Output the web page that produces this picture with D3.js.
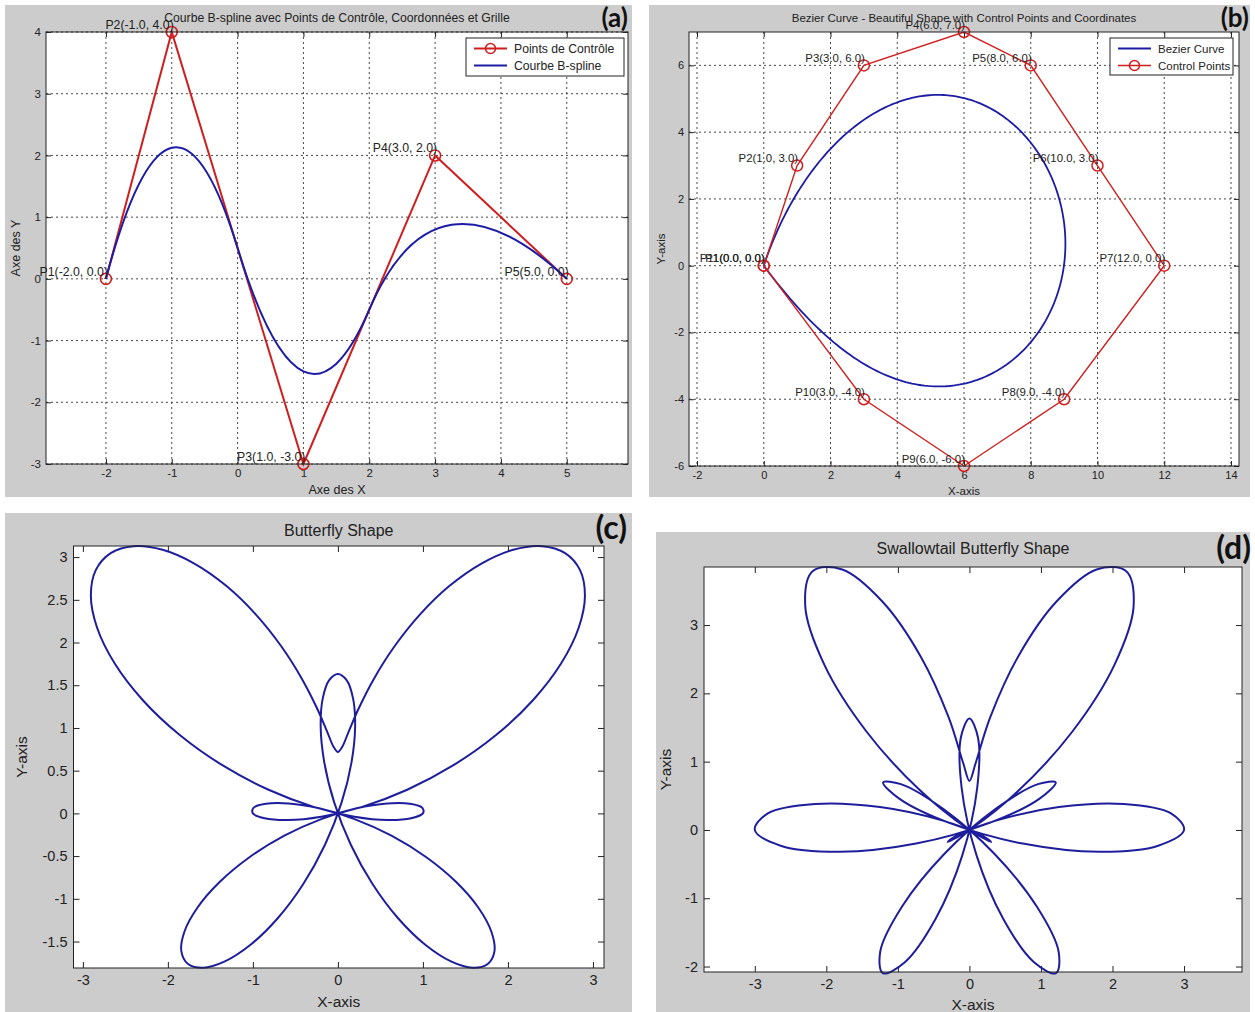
<!DOCTYPE html>
<html>
<head>
<meta charset="utf-8">
<script src="https://cdn.jsdelivr.net/npm/d3@7"></script>
<style>
  body { margin: 0; background: #fff; }
  text { font-family: "Liberation Sans", Arial, sans-serif; fill: #222; }
  .tag { font-family: Lato, "Liberation Sans", sans-serif; font-weight: 700; fill: #111; }
</style>
</head>
<body>
<svg id="chart" width="1255" height="1012"></svg>
<script>
// ---- data ----
// (a) B-spline control points
const splineX = [-2, -1, 1, 3, 5];
const splineY = [0, 4, -3, 2, 0];
// (b) Bezier control points (P11 closes back on P1)
const bezierX = [0, 1, 3, 6, 8, 10, 12, 9, 6, 3, 0];
const bezierY = [0, 3, 6, 7, 6, 3, 0, -4, -6, -4, 0];
// (c) butterfly, polar samples (angle from the vertical, degrees) of the right half
const butterflyAngle = [0, 3.75, 7.5, 11.25, 15, 18.75, 22.5, 26.25, 30, 33.75, 37.5, 41.25, 45,
  48.75, 52.5, 56.25, 60, 63.75, 67.5, 71.25, 75, 78.75, 82.5, 86.25, 90, 93.75, 97.5, 101.25,
  105, 108.75, 112.5, 116.25, 120, 123.75, 127.5, 131.25, 135, 138.75, 142.5, 146.25, 150,
  153.75, 157.5, 161.25, 165, 168.75, 172.5, 176.25, 180];
const butterflyRadius = [0.718, 0.781, 0.963, 1.252, 1.627, 2.060, 2.519, 2.970, 3.377, 3.711,
  3.943, 4.053, 4.028, 3.865, 3.570, 3.157, 2.649, 2.074, 1.466, 0.861, 0.295, -0.199, -0.593,
  -0.864, -1.000, -0.995, -0.854, -0.591, -0.228, 0.207, 0.682, 1.160, 1.607, 1.988, 2.276,
  2.449, 2.493, 2.403, 2.184, 1.850, 1.421, 0.925, 0.397, -0.130, -0.619, -1.039, -1.361,
  -1.563, -1.632];
// (d) swallowtail, polar samples of the right half
const swallowAngle = [0, 5, 10, 15, 20, 25, 30, 35, 40, 45, 50, 55, 60, 65, 70, 75, 80, 85, 90,
  95, 100, 105, 110, 115, 120, 125, 130, 135, 140, 145, 150, 155, 160, 165, 170, 175, 180];
const swallowRadius = [0.718, 0.976, 1.677, 2.627, 3.559, 4.207, 4.377, 4.001, 3.151, 2.028,
  0.902, 0.043, -0.351, -0.206, 0.408, 1.295, 2.190, 2.823, 3.000, 2.649, 1.841, 0.772, -0.290,
  -1.077, -1.393, -1.169, -0.474, 0.493, 1.465, 2.173, 2.421, 2.136, 1.391, 0.381, -0.626,
  -1.363, -1.632];

// tick values
const aTicksX = [-2, -1, 0, 1, 2, 3, 4, 5];
const aTicksY = [-3, -2, -1, 0, 1, 2, 3, 4];
const bTicksX = [-2, 0, 2, 4, 6, 8, 10, 12, 14];
const bTicksY = [-6, -4, -2, 0, 2, 4, 6];
const cTicksX = [-3, -2, -1, 0, 1, 2, 3];
const cTicksY = [-1.5, -1, -0.5, 0, 0.5, 1, 1.5, 2, 2.5, 3];
const dTicksX = [-3, -2, -1, 0, 1, 2, 3];
const dTicksY = [-2, -1, 0, 1, 2, 3];

const RED = "#d01e1e", BLUE = "#1c1ca4", CURVE = "#1e1e9c";
const svg = d3.select("#chart");

// quadratic clamped B-spline through the control polygon
function quadBSpline(context) {
  let pts = [];
  return {
    areaStart() {}, areaEnd() {},
    lineStart() { pts = []; },
    point(x, y) { pts.push([+x, +y]); },
    lineEnd() {
      const n = pts.length;
      context.moveTo(pts[0][0], pts[0][1]);
      for (let i = 1; i < n - 2; i++) {
        context.quadraticCurveTo(pts[i][0], pts[i][1],
          (pts[i][0] + pts[i + 1][0]) / 2, (pts[i][1] + pts[i + 1][1]) / 2);
      }
      context.quadraticCurveTo(pts[n - 2][0], pts[n - 2][1], pts[n - 1][0], pts[n - 1][1]);
    }
  };
}

// single Bezier of any degree (de Casteljau)
function bezierN(context) {
  let pts = [];
  return {
    areaStart() {}, areaEnd() {},
    lineStart() { pts = []; },
    point(x, y) { pts.push([+x, +y]); },
    lineEnd() {
      const steps = 300;
      for (let k = 0; k <= steps; k++) {
        const t = k / steps;
        const q = pts.map(p => p.slice());
        for (let r = q.length - 1; r > 0; r--) {
          for (let i = 0; i < r; i++) {
            q[i][0] += t * (q[i + 1][0] - q[i][0]);
            q[i][1] += t * (q[i + 1][1] - q[i][1]);
          }
        }
        if (k === 0) context.moveTo(q[0][0], q[0][1]);
        else context.lineTo(q[0][0], q[0][1]);
      }
    }
  };
}

// right half + mirrored left half -> closed loop in x/y
function polarLoop(angles, radii) {
  const half = angles.map((a, i) => ({ a: a, r: radii[i] }));
  const mirror = half.slice(1, -1).reverse().map(d => ({ a: 360 - d.a, r: d.r }));
  return half.concat(mirror).map(d => {
    const t = d.a * Math.PI / 180;
    return { x: d.r * Math.sin(t), y: d.r * Math.cos(t) };
  });
}

function panel(o) {
  const g = svg.append("g");
  g.append("rect").attr("x", o.bg[0]).attr("y", o.bg[1]).attr("width", o.bg[2]).attr("height", o.bg[3])
    .attr("fill", "#cccccc");
  const x = d3.scaleLinear().domain(o.xDom).range([o.left, o.right]);
  const y = d3.scaleLinear().domain(o.yDom).range([o.bottom, o.top]);
  g.append("rect").attr("x", o.left).attr("y", o.top)
    .attr("width", o.right - o.left).attr("height", o.bottom - o.top).attr("fill", "#fff");

  if (o.grid) {
    g.selectAll(".gx").data(o.xTicks).join("line")
      .attr("x1", d => x(d)).attr("x2", d => x(d)).attr("y1", o.top).attr("y2", o.bottom)
      .attr("stroke", "#333").attr("stroke-width", 0.9).attr("stroke-dasharray", "2,3");
    g.selectAll(".gy").data(o.yTicks).join("line")
      .attr("y1", d => y(d)).attr("y2", d => y(d)).attr("x1", o.left).attr("x2", o.right)
      .attr("stroke", "#333").attr("stroke-width", 0.9).attr("stroke-dasharray", "2,3");
  }

  const fmt = d => String(d);
  const ts = o.tick;
  const axes = [
    [d3.axisBottom(x).tickValues(o.xTicks).tickSize(-ts).tickPadding(o.padX).tickFormat(fmt), `translate(0,${o.bottom})`],
    [d3.axisTop(x).tickValues(o.xTicks).tickSize(-ts).tickFormat(""), `translate(0,${o.top})`],
    [d3.axisLeft(y).tickValues(o.yTicks).tickSize(-ts).tickPadding(o.padY).tickFormat(fmt), `translate(${o.left},0)`],
    [d3.axisRight(y).tickValues(o.yTicks).tickSize(-ts).tickFormat(""), `translate(${o.right},0)`]
  ];
  axes.forEach(([ax, tr]) => {
    const a = g.append("g").attr("transform", tr).call(ax);
    a.select(".domain").remove();
    a.attr("color", "#222").attr("font-size", o.font);
  });

  const cx = (o.left + o.right) / 2, cy = (o.top + o.bottom) / 2;
  g.append("text").attr("x", cx).attr("y", o.titleY).attr("text-anchor", "middle")
    .attr("font-size", o.titleFont).text(o.title);
  g.append("text").attr("x", cx).attr("y", o.xlabY).attr("text-anchor", "middle")
    .attr("font-size", o.labFont).text(o.xlab);
  g.append("text").attr("transform", `translate(${o.ylabX},${cy}) rotate(-90)`).attr("text-anchor", "middle")
    .attr("font-size", o.labFont).text(o.ylab);
  g.append("text").attr("class", "tag").attr("x", o.tagX).attr("y", o.tagY).attr("text-anchor", "end")
    .attr("font-size", o.tagFont).text(o.tag);

  const plot = g.append("g");
  const frame = () => g.append("rect").attr("x", o.left).attr("y", o.top)
    .attr("width", o.right - o.left).attr("height", o.bottom - o.top)
    .attr("fill", "none").attr("stroke", "#222").attr("stroke-width", 1);
  return { g, plot, x, y, frame };
}

function legend(g, x0, y0, w, h, items, font) {
  const lg = g.append("g");
  lg.append("rect").attr("x", x0).attr("y", y0).attr("width", w).attr("height", h)
    .attr("fill", "#fff").attr("stroke", "#222").attr("stroke-width", 1);
  items.forEach((it, i) => {
    const yy = y0 + 10.5 + i * 17;
    lg.append("line").attr("x1", x0 + 8).attr("x2", x0 + 41).attr("y1", yy).attr("y2", yy)
      .attr("stroke", it.color).attr("stroke-width", it.width);
    if (it.marker) {
      lg.append("circle").attr("cx", x0 + 24.5).attr("cy", yy).attr("r", 5)
        .attr("fill", "none").attr("stroke", it.color).attr("stroke-width", 1.5);
    }
    lg.append("text").attr("x", x0 + 48).attr("y", yy + 4).attr("font-size", font).text(it.label);
  });
}

// ---------- (a) ----------
const A = panel({
  bg: [5, 5, 627, 492], left: 46, right: 628, top: 32, bottom: 464,
  xDom: [-2.91, 5.93], yDom: [-3, 4], xTicks: aTicksX, yTicks: aTicksY, grid: true,
  tick: 5, padX: 5, padY: 5, font: 11.5, titleFont: 12.2, labFont: 12.5, tagFont: 26,
  title: "Courbe B-spline avec Points de Contrôle, Coordonnées et Grille", titleY: 22,
  xlab: "Axe des X", xlabY: 494, ylab: "Axe des Y", ylabX: 20,
  tag: "(a)", tagX: 628, tagY: 27
});
const aPts = splineX.map((v, i) => ({ x: v, y: splineY[i] }));
A.plot.append("path").datum(aPts)
  .attr("d", d3.line().x(d => A.x(d.x)).y(d => A.y(d.y)))
  .attr("fill", "none").attr("stroke", RED).attr("stroke-width", 2);
A.plot.selectAll(".pa").data(aPts).join("circle")
  .attr("cx", d => A.x(d.x)).attr("cy", d => A.y(d.y)).attr("r", 5.5)
  .attr("fill", "none").attr("stroke", RED).attr("stroke-width", 1.6);
A.plot.append("path").datum(aPts)
  .attr("d", d3.line().x(d => A.x(d.x)).y(d => A.y(d.y)).curve(quadBSpline))
  .attr("fill", "none").attr("stroke", BLUE).attr("stroke-width", 2);
A.plot.selectAll(".la").data(aPts).join("text")
  .attr("x", d => A.x(d.x) + 2).attr("y", d => A.y(d.y) - 3).attr("text-anchor", "end")
  .attr("font-size", 12.3)
  .text((d, i) => `P${i + 1}(${d.x.toFixed(1)}, ${d.y.toFixed(1)})`);
A.frame();
legend(A.g, 466, 38, 158, 38, [
  { label: "Points de Contrôle", color: RED, width: 2, marker: true },
  { label: "Courbe B-spline", color: BLUE, width: 2 }
], 12.2);

// ---------- (b) ----------
const B = panel({
  bg: [649, 5, 601, 492], left: 689, right: 1239, top: 32, bottom: 466,
  xDom: [-2.24, 14.24], yDom: [-6, 7], xTicks: bTicksX, yTicks: bTicksY, grid: true,
  tick: 5, padX: 5, padY: 5, font: 11, titleFont: 11.5, labFont: 11.5, tagFont: 26,
  title: "Bezier Curve - Beautiful Shape with Control Points and Coordinates", titleY: 22,
  xlab: "X-axis", xlabY: 495, ylab: "Y-axis", ylabX: 665,
  tag: "(b)", tagX: 1249, tagY: 27
});
const bPts = bezierX.map((v, i) => ({ x: v, y: bezierY[i] }));
B.plot.append("path").datum(bPts)
  .attr("d", d3.line().x(d => B.x(d.x)).y(d => B.y(d.y)).curve(bezierN))
  .attr("fill", "none").attr("stroke", BLUE).attr("stroke-width", 1.8);
B.plot.append("path").datum(bPts)
  .attr("d", d3.line().x(d => B.x(d.x)).y(d => B.y(d.y)))
  .attr("fill", "none").attr("stroke", RED).attr("stroke-width", 1.4);
B.plot.selectAll(".pb").data(bPts).join("circle")
  .attr("cx", d => B.x(d.x)).attr("cy", d => B.y(d.y)).attr("r", 5.5)
  .attr("fill", "none").attr("stroke", RED).attr("stroke-width", 1.5);
B.plot.selectAll(".lb").data(bPts).join("text")
  .attr("x", d => B.x(d.x) + 1).attr("y", d => B.y(d.y) - 3.5).attr("text-anchor", "end")
  .attr("font-size", 11.4)
  .text((d, i) => `P${i + 1}(${d.x.toFixed(1)}, ${d.y.toFixed(1)})`);
B.frame();
legend(B.g, 1110, 38, 123, 37, [
  { label: "Bezier Curve", color: BLUE, width: 1.8 },
  { label: "Control Points", color: RED, width: 1.4, marker: true }
], 11.5);

// ---------- (c) ----------
const C = panel({
  bg: [5, 513, 627, 499], left: 73.5, right: 604, top: 546, bottom: 968,
  xDom: [-3.11, 3.13], yDom: [-1.81, 3.13], xTicks: cTicksX, yTicks: cTicksY, grid: false,
  tick: 6, padX: 7, padY: 6, font: 14.5, titleFont: 16, labFont: 15.5, tagFont: 32,
  title: "Butterfly Shape", titleY: 536,
  xlab: "X-axis", xlabY: 1007, ylab: "Y-axis", ylabX: 27,
  tag: "(c)", tagX: 627, tagY: 539
});
C.plot.append("path").datum(polarLoop(butterflyAngle, butterflyRadius))
  .attr("d", d3.line().x(d => C.x(d.x)).y(d => C.y(d.y)).curve(d3.curveCatmullRomClosed.alpha(0.5)))
  .attr("fill", "none").attr("stroke", CURVE).attr("stroke-width", 2);
C.frame();

// ---------- (d) ----------
const D = panel({
  bg: [656, 532, 594, 480], left: 704, right: 1242, top: 567, bottom: 972,
  xDom: [-3.71, 3.81], yDom: [-2.08, 3.85], xTicks: dTicksX, yTicks: dTicksY, grid: false,
  tick: 6, padX: 7, padY: 6, font: 14.5, titleFont: 16, labFont: 15.5, tagFont: 32,
  title: "Swallowtail Butterfly Shape", titleY: 554,
  xlab: "X-axis", xlabY: 1010, ylab: "Y-axis", ylabX: 671,
  tag: "(d)", tagX: 1251, tagY: 559
});
D.plot.append("path").datum(polarLoop(swallowAngle, swallowRadius))
  .attr("d", d3.line().x(d => D.x(d.x)).y(d => D.y(d.y)).curve(d3.curveCatmullRomClosed.alpha(0.5)))
  .attr("fill", "none").attr("stroke", CURVE).attr("stroke-width", 2);
D.frame();
</script>
</body>
</html>
